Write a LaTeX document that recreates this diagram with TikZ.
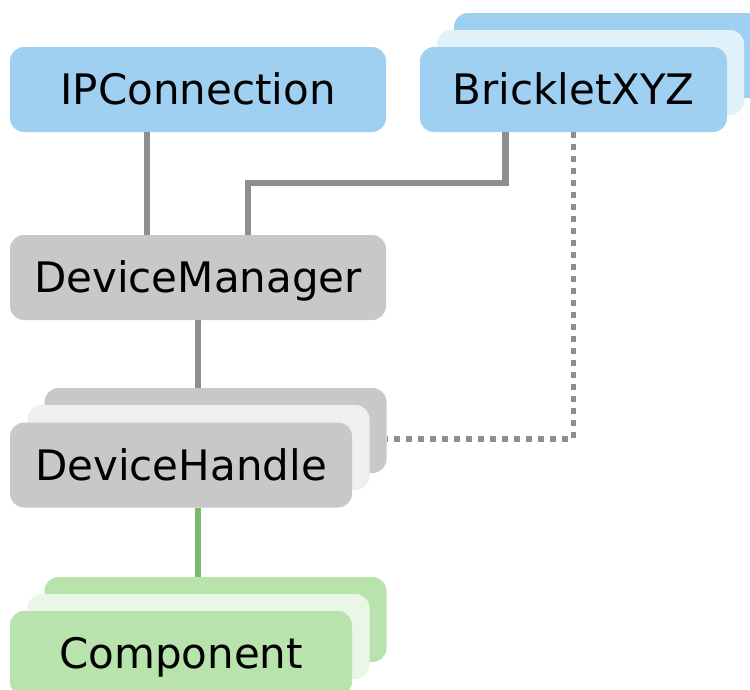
\documentclass[tikz,border=0pt]{standalone}
\usepackage{fontspec}
\setmainfont{DejaVu Sans}

\definecolor{blueA}{HTML}{9FD0F2}
\definecolor{blueB}{HTML}{E1F2FB}
\definecolor{greyA}{HTML}{C8C8C8}
\definecolor{greyB}{HTML}{EFEFEF}
\definecolor{greenA}{HTML}{B8E3AC}
\definecolor{greenB}{HTML}{EAF6E6}
\definecolor{wire}{HTML}{8E8E8E}
\definecolor{greenwire}{HTML}{7CB86A}

\begin{document}
\begin{tikzpicture}[x=1pt,y=-1pt]
  \tikzstyle{unit} = [rectangle, rounded corners=14pt, minimum height=85pt, inner sep=0pt,
                      text height=30.8pt, text depth=0pt, font=\fontsize{42}{50}\selectfont];
  \tikzstyle{wide} = [unit, minimum width=376pt];
  \tikzstyle{narrow} = [unit, minimum width=342pt];
  \tikzstyle{link} = [draw=wire, line width=6.5pt];
  \tikzstyle{dots} = [draw=wire, line width=5.5pt, dash pattern=on 6pt off 6pt];

  \clip (0,0) rectangle (750,689);

  % top row
  \node[wide, fill=blueA] (ipc) at (198,89.5) {IPConnection};
  \node[unit, minimum width=307pt, fill=blueA] (bxyz3) at (607.5,55.5) {};
  \node[unit, minimum width=307pt, fill=blueB] (bxyz2) at (590.5,72.5) {};
  \node[unit, minimum width=307pt, fill=blueA] (bxyz) at (573.5,89.5) {BrickletXYZ};

  % manager
  \node[wide, fill=greyA] (dm) at (198,277.5) {DeviceManager};

  % handles
  \node[narrow, fill=greyA] (dh3) at (215.5,430.5) {};
  \node[narrow, fill=greyB] (dh2) at (198.5,447.5) {};
  \node[narrow, fill=greyA] (dh) at (181,465) {DeviceHandle};

  % components
  \node[narrow, fill=greenA] (comp3) at (215.5,619.5) {};
  \node[narrow, fill=greenB] (comp2) at (198.5,636.5) {};
  \node[narrow, fill=greenA] (comp) at (181,653.5) {Component};

  \coordinate (bend) at (248,183);

  \draw[link] ([xshift=-51pt]ipc.south) -- ([xshift=-51pt]ipc.south |- dm.north);
  \draw[link] ([xshift=-68pt]bxyz.south) |- (bend) -- (bend |- dm.north);
  \draw[link] (dm.south) -- (dm.south |- dh3.north);
  \draw[draw=greenwire, line width=5.5pt] (dh.south -| dm.south) -- (dm.south |- comp3.north);
  \draw[dots] (bxyz.south) |- ([yshift=-8.5pt]dh3.east);

\end{tikzpicture}
\end{document}
